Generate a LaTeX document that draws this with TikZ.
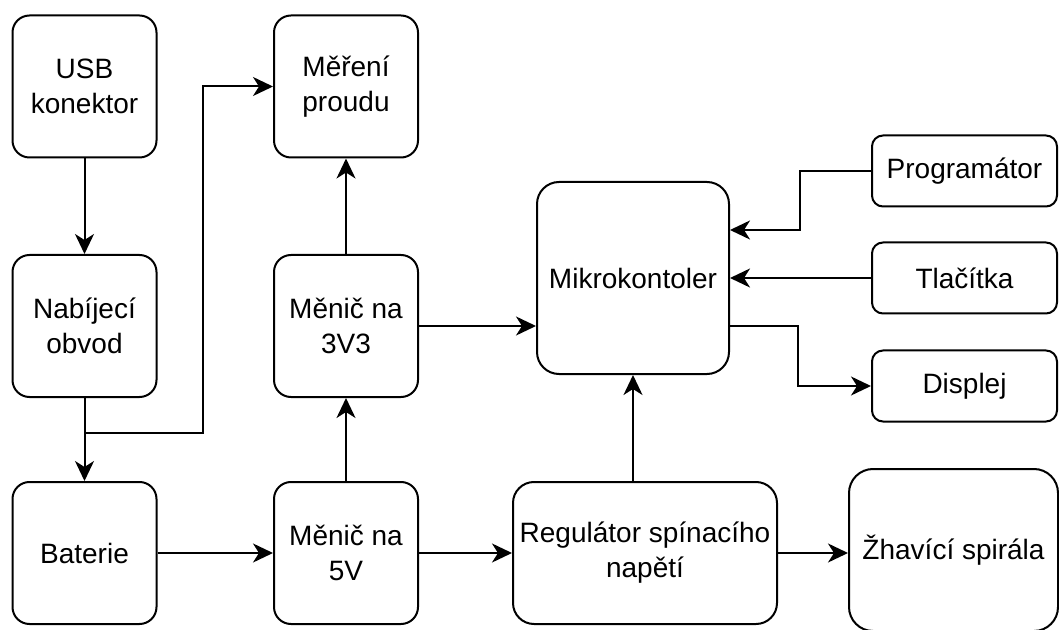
\documentclass[tikz,border=0pt]{standalone}
\usepackage{fontspec}
\setmainfont{Liberation Sans}
\usetikzlibrary{arrows.meta}

\begin{document}
\begin{tikzpicture}[x=0.5pt, y=-0.5pt, line width=1pt,
  box/.style={draw, rounded corners=8.5pt, align=center, inner sep=1pt,
    font=\fontsize{14}{17.5}\selectfont},
  bigbox/.style={box, minimum width=72pt, minimum height=71pt},
  sidebox/.style={box, rounded corners=5.5pt, minimum width=92.5pt, minimum height=35.5pt},
  conn/.style={-{Stealth[length=10pt, width=9.5pt, inset=3pt]}}]
\useasboundingbox (0,0) rectangle (1059,630);
\clip (0,0) rectangle (1059,630);
% left column
\node[bigbox] (usb) at (84.5,86.5) {USB\\konektor};
\node[bigbox] (nab) at (84.5,326) {Nabíjecí\\obvod};
\node[bigbox] (bat) at (84.5,553) {Baterie};
% converters
\node[bigbox] (mer) at (346,86.5) {Měření\\proudu};
\node[bigbox] (m33) at (346,326) {Měnič na\\3V3};
\node[bigbox] (m5) at (346,553) {Měnič na\\5V};
% controller and periphery
\node[box, rounded corners=11pt, minimum width=96pt, minimum height=96pt] (mcu) at (633,278) {Mikrokontoler};
\node[sidebox] (prog) at (964.5,171) {Programátor};
\node[sidebox] (tlac) at (964.5,278) {Tlačítka};
\node[sidebox] (disp) at (964.5,386) {Displej};
\node[box, rounded corners=10.5pt, minimum width=132pt, minimum height=71pt] (reg) at (645,553) {Regulátor spínacího\\napětí};
\node[box, rounded corners=12pt, minimum width=104.5pt, minimum height=81pt] (zhav) at (953.5,550) {Žhavící spirála};
% connections
\coordinate (jn) at (84.5,433);
\coordinate (up) at (203,433);
\draw[conn] (usb) -- (nab);
\draw[conn] (nab) -- (bat);
\draw[conn] (jn) -- (up) |- (mer.west);
\draw[conn] (bat) -- (m5);
\draw[conn] (m5) -- (m33);
\draw[conn] (m33) -- (mer);
\draw[conn] (m5) -- (reg);
\draw[conn] (m33.east) -- (m33.east -| mcu.west);
\draw[conn] (mcu.south |- reg.north) -- (mcu.south);
\draw[conn] (reg.east) -- (reg.east -| zhav.west);
\draw[conn] (prog.west) -- ++(-71,0) |- ([yshift=24pt]mcu.east);
\draw[conn] (tlac) -- (mcu);
\draw[conn] ([yshift=-24pt]mcu.east) -- ++(68,0) |- (disp.west);
\end{tikzpicture}
\end{document}
